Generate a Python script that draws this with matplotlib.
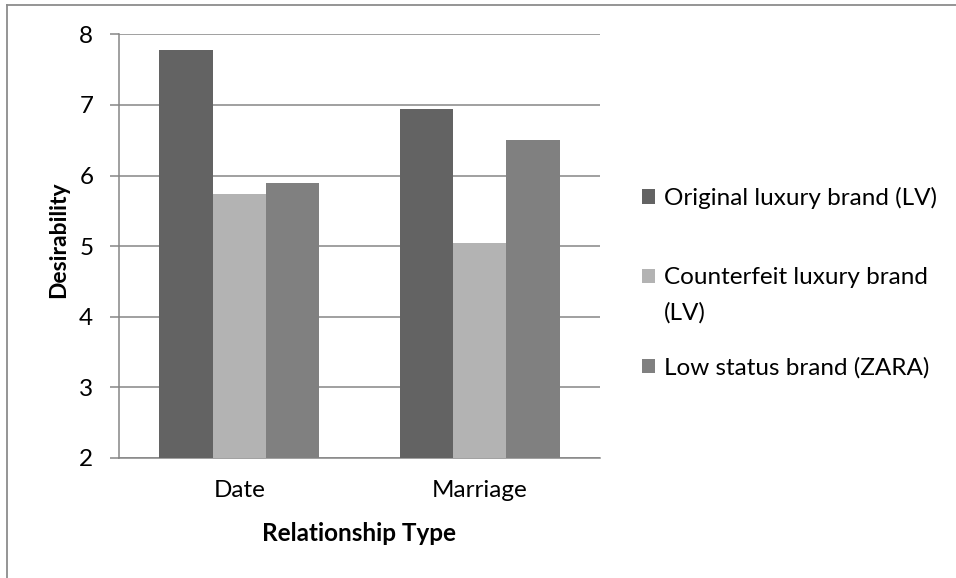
import matplotlib
matplotlib.use("Agg")
import matplotlib.pyplot as plt
import numpy as np
from matplotlib.legend_handler import HandlerPatch
from matplotlib.lines import Line2D

categories = ["Date", "Marriage"]
series_names = ["Original luxury brand (LV)", "Counterfeit luxury brand\n(LV)", "Low status brand (ZARA)"]
original_lv = [7.78, 6.94]
counterfeit_lv = [5.74, 5.05]
zara = [5.89, 6.50]
y_ticks = [2, 3, 4, 5, 6, 7, 8]

colors = ["#636363", "#b3b3b3", "#808080"]
grid_c = "#868686"

plt.rcParams['font.family'] = ['Lato', 'DejaVu Sans']
FS = 17.5

W, H = 956, 578
fig = plt.figure(figsize=(W / 100, H / 100), dpi=100)
ax = fig.add_axes([119 / W, 1 - 458 / H, (600 - 119) / W, (458 - 34.3) / H])

x = np.arange(len(categories))
bw = 0.222
handles = []
for i, (vals, c) in enumerate(zip([original_lv, counterfeit_lv, zara], colors)):
    b = ax.bar(x + (i - 1) * bw, vals, width=bw, color=c, bottom=0, zorder=3,
               label=series_names[i])
    handles.append(b[0])

ax.set_xlim(-0.5, 1.5)
ax.set_ylim(2, 8)
ax.set_yticks(y_ticks)
ax.set_yticklabels([str(t) for t in y_ticks])
ax.set_xticks(x)
ax.set_xticklabels(categories)
ax.yaxis.grid(True, color=grid_c, linewidth=1.1, zorder=0)
ax.set_axisbelow(True)
for s in ["top", "right"]:
    ax.spines[s].set_visible(False)
for s in ["left", "bottom"]:
    ax.spines[s].set_color(grid_c)
    ax.spines[s].set_linewidth(1.1)
ax.tick_params(axis="y", direction="out", length=6.5, width=1.1, color=grid_c,
               labelsize=FS, pad=12)
ax.tick_params(axis="x", length=0, labelsize=FS, pad=16)

ax.set_xlabel("Relationship Type", fontsize=FS, fontweight="bold")
ax.xaxis.set_label_coords(0.5, (458 - 522) / 423.7)
ax.xaxis.label.set_va("top")
ax.set_ylabel("Desirability", fontsize=16.5, fontweight="bold")
ax.yaxis.set_label_coords((69 - 119) / 481, (458 - 240) / 423.7)


class ShiftedPatch(HandlerPatch):
    def __init__(self, dy=0.0, **kw):
        super().__init__(**kw)
        self.dy = dy

    def create_artists(self, legend, orig_handle, xdescent, ydescent, width,
                       height, fontsize, trans):
        return super().create_artists(legend, orig_handle, xdescent,
                                      ydescent - self.dy * fontsize, width,
                                      height, fontsize, trans)


# one legend block per entry so that the uneven spacing of the reference is kept
legend_centers = [198, 295, 368]   # pixel rows of each entry block centre
for i in range(3):
    hm = {handles[1]: ShiftedPatch(dy=0.78)} if i == 1 else None
    lg = fig.legend(handles=[handles[i]], labels=[series_names[i]], loc="center left",
                    bbox_to_anchor=(642 / W, 1 - legend_centers[i] / H),
                    bbox_transform=fig.transFigure, frameon=False, fontsize=FS,
                    handlelength=0.54, handleheight=0.54, handletextpad=0.37,
                    borderaxespad=0, borderpad=0, handler_map=hm)
    for t in lg.get_texts():
        t.set_linespacing(1.78)

# outer border (only top and left visible in reference)
fig.add_artist(Line2D([7 / W, 7 / W], [0, 1 - 5 / H], transform=fig.transFigure,
                      color="#8c8c8c", linewidth=1.3))
fig.add_artist(Line2D([7 / W, 1], [1 - 5 / H, 1 - 5 / H], transform=fig.transFigure,
                      color="#8c8c8c", linewidth=1.3))

fig.savefig("out.png", dpi=100, facecolor="white")
